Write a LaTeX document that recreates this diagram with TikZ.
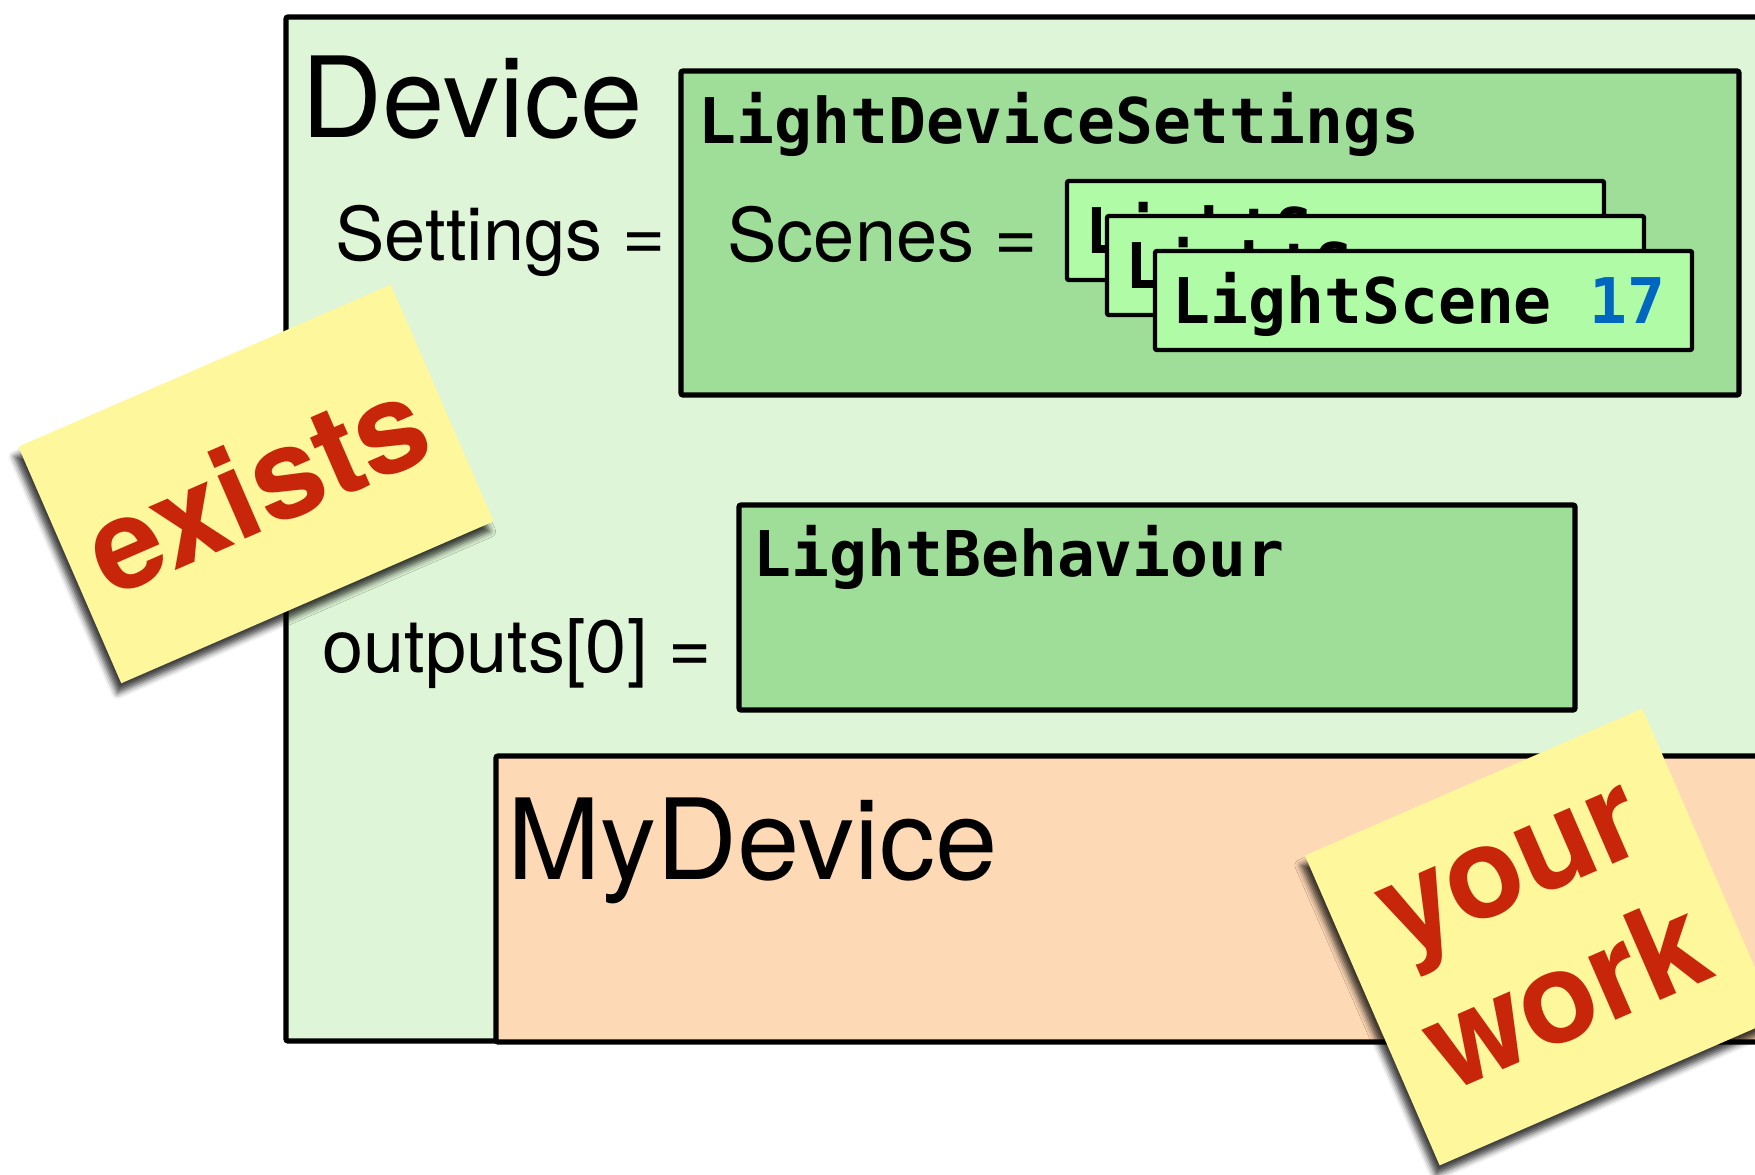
\documentclass[tikz,border=0pt]{standalone}
\usepackage{fontspec}
\setmainfont{TeX Gyre Heros}
\newfontfamily\codefont{DejaVu Sans Mono}
\usetikzlibrary{shadows.blur}

\definecolor{devicegreen}{RGB}{223,245,215}
\definecolor{settingsgreen}{RGB}{158,222,152}
\definecolor{scenegreen}{RGB}{176,251,166}
\definecolor{mypeach}{RGB}{254,217,181}
\definecolor{stickyyellow}{RGB}{255,247,155}
\definecolor{stickyred}{RGB}{200,38,10}
\definecolor{sceneblue}{RGB}{0,102,192}

\tikzset{every picture/.style={line width=2.6pt}}
\tikzset{
  classbox/.style={draw=black, line width=2.6pt, rounded corners=1pt},
  scenecard/.style={classbox, fill=scenegreen, line width=2.2pt},
  classname/.style={anchor=base west, inner sep=0pt, font=\fontsize{56}{62}\selectfont},
  fieldname/.style={anchor=base west, inner sep=0pt, font=\fontsize{37}{44}\selectfont},
  typename/.style={anchor=base west, inner sep=0pt, font=\codefont\bfseries\fontsize{31.5}{36}\selectfont},
  sticky/.style={fill=stickyyellow, text=stickyred, inner sep=0pt, align=center,
    font=\bfseries\fontsize{63.5}{72}\selectfont,
    blur shadow={shadow xshift=-2pt, shadow yshift=-5pt, shadow blur radius=3pt, shadow opacity=75}},
}

\begin{document}
\begin{tikzpicture}[x=0.5pt,y=0.5pt,yscale=-1,xscale=1]
\useasboundingbox (0,0) rectangle (1755,1174);

%Device class
\draw [classbox, fill=devicegreen] (286,17) rectangle (1800,1041);
\node [classname] (device) at (299,137) {Device};
\node [fieldname] (settings) at (333,260) {Settings =};

%LightDeviceSettings
\draw [classbox, fill=settingsgreen] (681,71) rectangle (1739,395);
\node [typename] (devsettings) at (696,143) {LightDeviceSettings};
\node [fieldname] (scenes) at (725,261) {Scenes =};

%stacked scene cards, back to front
\foreach \cx/\cy [count=\i] in {1067/181, 1107/216} {
  \draw [scenecard] (\cx,\cy) rectangle ++(537,99);
  \node [typename] (scene\i) at (\cx+16,\cy+72) {LightScene};
}
\draw [scenecard] (1155,251) rectangle ++(537,99);
\node [typename] (scene3) at (1170,323) {LightScene \textcolor{sceneblue}{17}};

%LightBehaviour
\draw [classbox, fill=settingsgreen] (739,505) rectangle (1575,710);
\node [typename] (behaviour) at (751,576) {LightBehaviour};
\node [fieldname] (outputs) at (320,672) {outputs[0] =};

%MyDevice subclass
\draw [classbox, fill=mypeach] (496,756) rectangle (1800,1042);
\node [classname] (mydevice) at (505,879) {MyDevice};

%sticky notes
\node [sticky, rotate=23.5, minimum width=203pt, minimum height=129pt] (exists) at (256,484) {exists};
\node [sticky, rotate=23.5, minimum width=184pt, minimum height=169pt] (yourwork) at (1541,937) {your\\work};

\end{tikzpicture}
\end{document}
